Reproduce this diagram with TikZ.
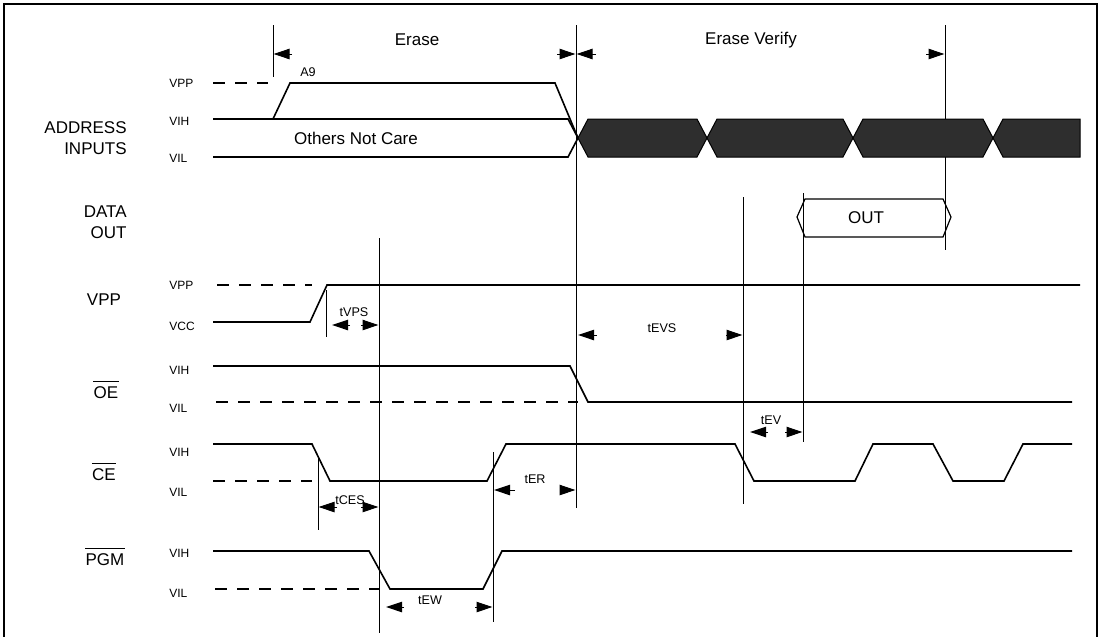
\documentclass[tikz,border=0pt]{standalone}
\usepackage{fontspec}
\setmainfont{Liberation Sans}
\usetikzlibrary{arrows.meta,positioning}

\begin{document}
\begin{tikzpicture}[x=0.5pt, y=-0.5pt,
    wave/.style={line width=0.8pt, line join=miter},
    lowlvl/.style={line width=0.7pt, dash pattern=on 6pt off 5pt},
    guide/.style={line width=0.5pt},
    dimarr/.style={-{Triangle[length=8pt, width=5.2pt]}, line width=0.5pt},
    lvl/.style={font=\fontsize{6}{7}\selectfont, anchor=west, inner sep=0pt},
    tlab/.style={font=\fontsize{6.3}{7}\selectfont, inner sep=0pt},
    signame/.style={font=\fontsize{8.5}{10.5}\selectfont, inner sep=0pt, align=right},
    bar/.style={line width=0.4pt},
    busfill/.style={fill=black!82, draw=black, line width=0.5pt}]

  \def\xs{213}
  \def\xe{1072}
  \path[use as bounding box] (0,0) rectangle (1099,637);

  % frame
  \draw[line width=0.7pt] (4,637) -- (4,4) -- (1097,4) -- (1097,637);

  % signal names
  \node[signame, anchor=east] (addr) at (127,138) {ADDRESS\\INPUTS};
  \node[signame, anchor=east] (dout) at (127,222) {DATA\\OUT};
  \node[signame] (vpp) at (104,300) {VPP};
  \node[signame] (oe) at (106,393) {OE};
  \node[signame] (ce) at (104,475) {CE};
  \node[signame] (pgm) at (105,560) {PGM};
  \foreach \n in {oe,ce,pgm}
    \draw[bar] ([yshift=2.5pt]\n.north west) -- ([yshift=2.5pt]\n.north east);

  % level labels
  \foreach \t/\y [count=\i] in {VPP/83, VIH/121, VIL/158, VPP/285, VCC/326,
      VIH/370, VIL/408, VIH/452, VIL/492, VIH/553, VIL/593}
    \node[lvl] (lv\i) at (169,\y) {\t};

  % phases
  \node[signame] (erase) at (417,40) {Erase};
  \node[signame] (ever) at (751,40) {Erase Verify};
  \draw[dimarr] (292,54) -- (273.5,54);
  \draw[dimarr] (557,54) -- (575.5,54);
  \draw[dimarr] (596,54) -- (576.5,54);
  \draw[dimarr] (926,54) -- (944.5,54);

  % guide lines
  \draw[guide] (273,25) -- (273,77);
  \draw[guide] (576,25) -- (576,508);
  \draw[guide] (945,25) -- (945,250);
  \draw[guide] (743,197) -- (743,504);
  \draw[guide] (803,193) -- (803,442);
  \draw[guide] (379,238) -- (379,633);
  \draw[guide] (493,452) -- (493,622);
  \draw[guide] (318,458) -- (318,530);
  \draw[guide] (326,290) -- (326,337);

  % address inputs
  \draw[lowlvl] (\xs,83) -- (268,83);
  \draw[wave] (273,119) -- (290,83) -- (555,83) -- (578,138);
  \draw[wave] (\xs,119) -- (568,119) -- (578,138) -- (568,157) -- (\xs,157);
  \node[tlab] (a9) at (308,72) {A9};
  \node[signame] (onc) at (356,138) {Others Not Care};
  \foreach \a/\b in {578/707, 707/853, 853/993}
    \filldraw[busfill] (\a,138) -- ({\a+10},119) -- ({\b-10},119) -- (\b,138)
      -- ({\b-10},157) -- ({\a+10},157) -- cycle;
  \filldraw[busfill] (993,138) -- (1003,119) -- (1080,119) -- (1080,157)
    -- (1003,157) -- cycle;

  % data out
  \draw[line width=0.6pt] (797,217) -- (805,199) -- (943,199) -- (951,217)
    -- (943,237) -- (805,237) -- cycle;
  \node[signame] (out) at (866,218) {OUT};

  % VPP
  \draw[lowlvl] (217,285) -- (312,285);
  \draw[wave] (\xs,322) -- (310,322) -- (327,285) -- (1080,285);
  \node[tlab] (tvps) at (354,312) {tVPS};
  \draw[dimarr] (350,325) -- (332,325);
  \draw[dimarr] (361,325) -- (378.5,325);

  % OE
  \draw[lowlvl] (216,402) -- (578,402);
  \draw[wave] (\xs,366) -- (570,366) -- (588,402) -- (\xe,402);
  \node[tlab] (tevs) at (662,328) {tEVS};
  \draw[dimarr] (597,335) -- (578,335);
  \draw[dimarr] (726,335) -- (742.5,335);

  % CE
  \draw[lowlvl] (\xs,481) -- (312,481);
  \draw[wave] (\xs,444) -- (312,444) -- (330,481) -- (487,481) -- (506,444)
    -- (735,444) -- (754,481) -- (855,481) -- (873,444) -- (933,444)
    -- (953,481) -- (1004,481) -- (1023,444) -- (\xe,444);
  \node[tlab] (tev) at (771,420) {tEV};
  \draw[dimarr] (768,432) -- (750,432);
  \draw[dimarr] (785,432) -- (802.5,432);
  \node[tlab] (tces) at (350,500) {tCES};
  \draw[dimarr] (337,507) -- (318.5,507);
  \draw[dimarr] (361,507) -- (378.5,507);
  \node[tlab] (ter) at (535,479) {tER};
  \draw[dimarr] (515,490) -- (494,490);
  \draw[dimarr] (560,490) -- (575.5,490);

  % PGM
  \draw[lowlvl] (215,589) -- (379,589);
  \draw[wave] (\xs,551) -- (369,551) -- (390,589) -- (483,589) -- (502,551)
    -- (\xe,551);
  \node[tlab] (tew) at (430,600) {tEW};
  \draw[dimarr] (404,607) -- (386,607);
  \draw[dimarr] (475,607) -- (492.5,607);

\end{tikzpicture}
\end{document}
